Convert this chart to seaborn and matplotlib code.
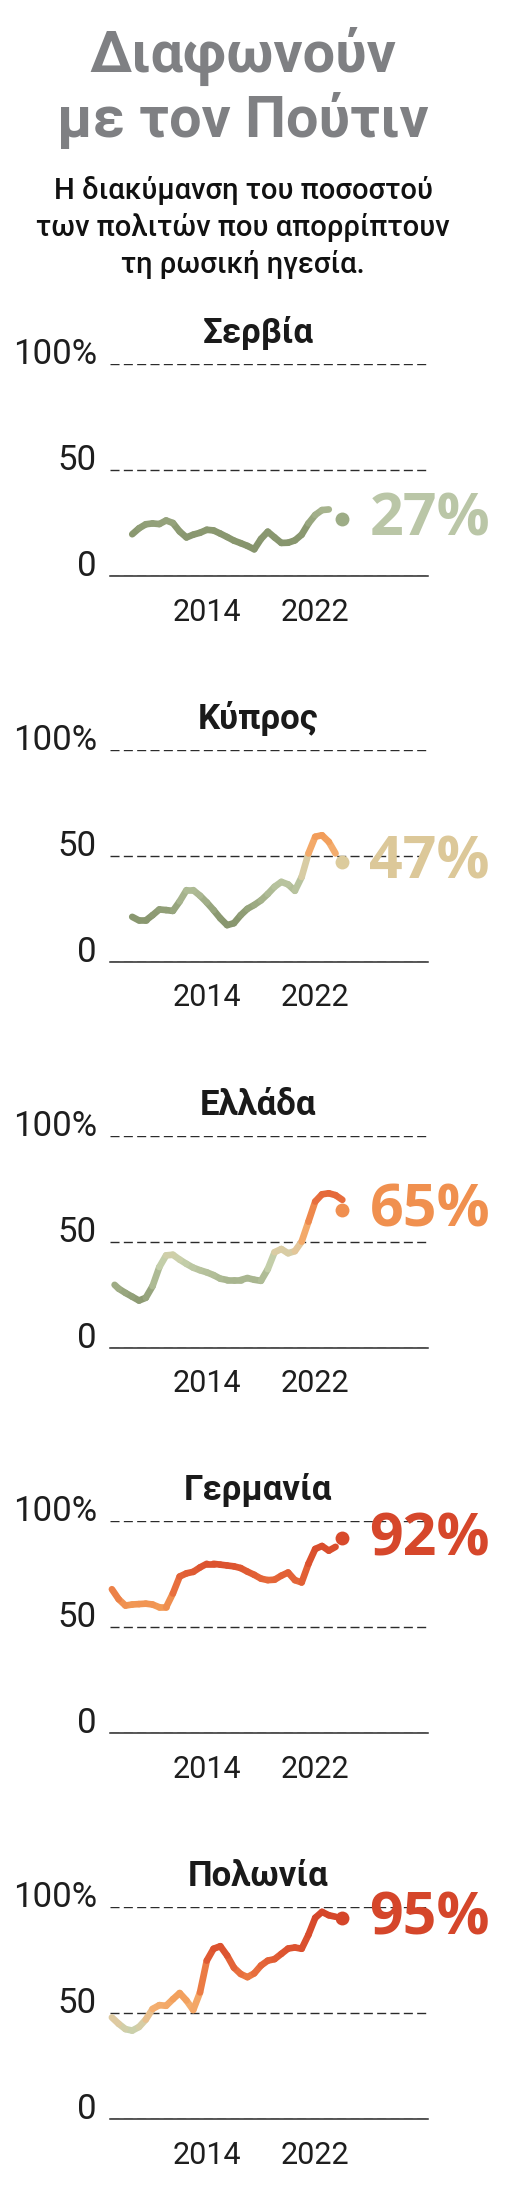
import numpy as np
import pandas as pd
import matplotlib.pyplot as plt
import matplotlib.transforms as mtransforms
from matplotlib.colors import LinearSegmentedColormap
import seaborn as sns

# data (share of people disapproving of Russia's leadership, %)
countries = ["Σερβία", "Κύπρος", "Ελλάδα", "Γερμανία", "Πολωνία"]
latest = [27, 47, 65, 92, 95]
latest_year = 2024

serbia_years = [2008.5, 2009, 2009.5, 2010, 2010.5, 2011, 2011.5, 2012, 2012.5, 2013, 2013.5,
                2014, 2014.5, 2015, 2015.5, 2016, 2016.5, 2017, 2017.5, 2018, 2018.5, 2019,
                2019.5, 2020, 2020.5, 2021, 2021.5, 2022, 2022.5, 2023]
serbia_vals = [19.7, 22.5, 24.4, 24.8, 24.5, 26.2, 25, 21, 18.2, 19.5, 20.4,
               21.8, 21.5, 20, 18.4, 16.7, 15.5, 14.2, 12.6, 17.5, 20.9, 18.2,
               15.6, 15.7, 16.8, 19.5, 24.8, 28.8, 31.1, 31.4]

cyprus_years = [2008.5, 2009, 2009.5, 2010, 2010.5, 2011, 2011.5, 2012, 2012.5, 2013, 2013.5,
                2014, 2014.5, 2015, 2015.5, 2016, 2016.5, 2017, 2017.5, 2018, 2018.5, 2019,
                2019.5, 2020, 2020.5, 2021, 2021.5, 2022, 2022.5, 2023, 2023.5]
cyprus_vals = [21.2, 19.5, 19.5, 22, 24.7, 24.4, 24, 28.5, 33.8, 33.8, 31.2,
               28, 24.4, 20.5, 17.3, 18.2, 22, 25, 26.8, 29, 32, 35.4,
               37.7, 36.5, 33.5, 40, 51.1, 59, 59.7, 56.6, 51.1]

greece_years = [2007.2, 2007.5, 2008, 2008.5, 2009, 2009.5, 2010, 2010.5, 2011, 2011.5, 2012,
                2012.5, 2013, 2013.5, 2014, 2014.5, 2015, 2015.5, 2016, 2016.5, 2017, 2017.5,
                2018, 2018.5, 2019, 2019.5, 2020, 2020.5, 2021, 2021.5, 2022, 2022.5, 2023,
                2023.5, 2024]
greece_vals = [29.6, 27.8, 25.8, 24, 22.2, 23.5, 29, 38, 43.5, 43.8, 41.5,
               39.5, 37.7, 36.5, 35.5, 34.2, 32.5, 31.9, 31.9, 31.9, 32.8, 32,
               31.5, 37, 45, 46.5, 44.5, 45.5, 50, 59.4, 68.9, 72.3, 72.8,
               71.9, 69.7]

germany_years = [2007, 2007.5, 2008, 2008.5, 2009, 2009.5, 2010, 2010.5, 2011, 2011.5, 2012,
                 2012.5, 2013, 2013.5, 2014, 2014.5, 2015, 2015.5, 2016, 2016.5, 2017, 2017.5,
                 2018, 2018.5, 2019, 2019.5, 2020, 2020.5, 2021, 2021.5, 2022, 2022.5, 2023,
                 2023.5]
germany_vals = [68, 63.3, 60.3, 60.8, 61, 61.2, 60.8, 59.5, 59.5, 66, 74,
                75.5, 76.2, 78.3, 80, 80, 79.6, 79.2, 78.8, 78, 76.3, 74.8,
                73, 72.3, 72.5, 74.4, 75.9, 72.3, 71.2, 80, 87, 88.4, 86.2,
                88]

poland_years = [2007, 2007.5, 2008, 2008.5, 2009, 2009.5, 2010, 2010.5, 2011, 2011.5, 2012,
                2012.5, 2013, 2013.5, 2014, 2014.5, 2015, 2015.5, 2016, 2016.5, 2017, 2017.5,
                2018, 2018.5, 2019, 2019.5, 2020, 2020.5, 2021, 2021.5, 2022, 2022.5, 2023,
                2023.5]
poland_vals = [48, 45, 42.5, 41.8, 43.5, 47, 52, 53.8, 53.5, 56.6, 59.5,
               56, 51.5, 59.8, 74.8, 80.4, 81.6, 77.2, 71.5, 68.5, 67, 68.8,
               72.5, 74.8, 75.5, 78, 80.5, 81, 80.4, 87, 95, 97.8, 96.2,
               95.5]

all_years = [serbia_years, cyprus_years, greece_years, germany_years, poland_years]
all_vals = [serbia_vals, cyprus_vals, greece_vals, germany_vals, poland_vals]

dot_colors = ["#9dac86", "#dccb9c", "#f08f50", "#d84a2b", "#d5462a"]
label_colors = ["#bac6a7", "#dcc899", "#f0904f", "#d6472b", "#d5462a"]

# line colour follows the value
cmap = LinearSegmentedColormap.from_list("disagree", [
    (0.0, "#7f8d66"), (0.22, "#8a9870"), (0.32, "#a9b690"), (0.42, "#c7d1ad"),
    (0.47, "#e0caa0"), (0.53, "#f3ae70"), (0.60, "#f29a56"), (0.70, "#e8703e"),
    (0.80, "#dc532f"), (1.0, "#d4452a")])

sns.set_style("white")
plt.rcParams["font.family"] = ["Roboto", "DejaVu Sans"]
plt.rcParams["lines.scale_dashes"] = False
narrow = ["Liberation Sans Narrow", "DejaVu Sans Condensed", "Roboto", "DejaVu Sans"]

W, H = 528, 2186
fig = plt.figure(figsize=(W / 100, H / 100), dpi=100)
fig.patch.set_facecolor("white")

fig.text(243 / W, 1 - 72 / H, "Διαφωνούν", ha="center", va="baseline",
         fontsize=41.5, fontweight="bold", color="#7f8083", family=narrow)
fig.text(243 / W, 1 - 137 / H, "με τον Πούτιν", ha="center", va="baseline",
         fontsize=41.5, fontweight="bold", color="#7f8083", family=narrow)
subtitle = ["Η διακύμανση του ποσοστού", "των πολιτών που απορρίπτουν", "τη ρωσική ηγεσία."]
for k, line in enumerate(subtitle):
    fig.text(243 / W, 1 - (199 + 37 * k) / H, line, ha="center", va="baseline",
             fontsize=21, fontweight="medium", color="#111111")

x0, x1 = 110, 428
for i, name in enumerate(countries):
    zero_y = 576 + i * 385.8
    top_y = zero_y - 212
    ax = fig.add_axes([x0 / W, 1 - zero_y / H, (x1 - x0) / W, 212 / H])
    ax.set_facecolor("none")

    yrs = all_years[i]
    vals = all_vals[i]
    rows = []
    for s in range(len(yrs) - 1):
        lvl = (vals[s] + vals[s + 1]) / 2
        rows.append({"seg": s, "year": yrs[s], "value": vals[s], "level": lvl})
        rows.append({"seg": s, "year": yrs[s + 1], "value": vals[s + 1], "level": lvl})
    df = pd.DataFrame(rows)
    sns.lineplot(data=df, x="year", y="value", hue="level", units="seg", estimator=None,
                 palette=cmap, hue_norm=(0, 100), legend=False, sort=False, ax=ax,
                 linewidth=4.8, solid_capstyle="round", clip_on=False)
    sns.scatterplot(x=[latest_year], y=[latest[i]], color=dot_colors[i], s=100,
                    linewidth=0, ax=ax, clip_on=False, zorder=5)

    off = mtransforms.offset_copy(ax.transData, fig=fig, x=0, y=-12, units="points")
    ax.text(2026, latest[i], f"{latest[i]}%", transform=off, ha="left", va="baseline",
            fontsize=42.5, fontweight="bold", color=label_colors[i],
            family=["Open Sans", "DejaVu Sans"])

    ax.set_xlim(2006.86, 2030.32)
    ax.set_ylim(0, 100)
    ax.set_xticks([2014, 2022])
    ax.set_xticklabels(["2014", "2022"])
    ax.set_yticks([0, 50, 100])
    ax.set_yticklabels(["0", "50", "100%"])
    ax.set_xlabel("")
    ax.set_ylabel("")
    ax.grid(axis="y", color="#2b2b2b", linewidth=1.0, linestyle=(0, (6.5, 3.1)))
    ax.grid(axis="x", visible=False)
    for side in ["top", "right", "left"]:
        ax.spines[side].set_visible(False)
    ax.spines["bottom"].set_color("#2b2b2b")
    ax.spines["bottom"].set_linewidth(1.1)
    ax.tick_params(axis="x", direction="inout", length=17, width=0.9, color="#2b2b2b",
                   pad=7, labelsize=22, labelcolor="#1e1e1e")
    ax.tick_params(axis="y", length=0, pad=9.4, labelsize=25, labelcolor="#1e1e1e")
    for t in ax.get_yticklabels():
        t.set_verticalalignment("baseline")

    fig.text(258 / W, 1 - (top_y - 21) / H, name, ha="center", va="baseline",
             fontsize=25, fontweight="bold", color="#1a1a1a", family=narrow)

fig.savefig("out.png", dpi=100, facecolor="white")
